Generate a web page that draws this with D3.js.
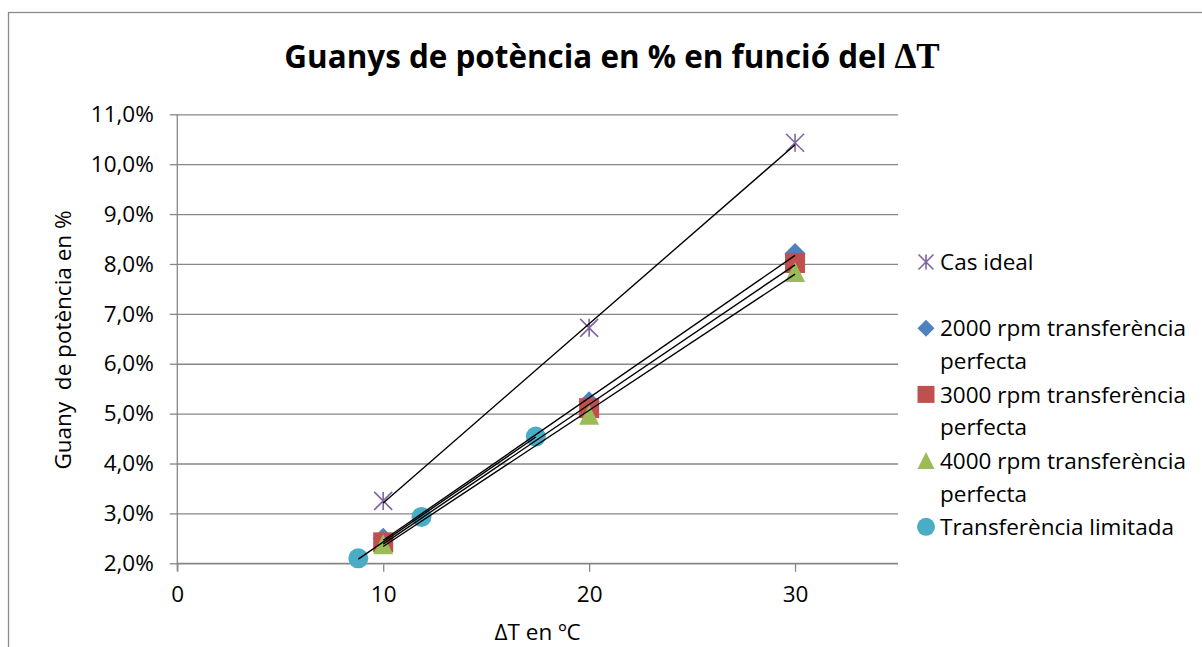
<!DOCTYPE html>
<html>
<head>
<meta charset="utf-8">
<script src="https://cdn.jsdelivr.net/npm/d3@7/dist/d3.min.js"></script>
<style>
  html, body { margin: 0; padding: 0; background: #fff; }
  svg { display: block; }
  text { font-family: "Open Sans", sans-serif; fill: #000; }
</style>
</head>
<body>
<script>
// ---- data ----
const deltaT = [10, 20, 30];
const casIdeal = [3.25, 6.72, 10.43];
const rpm2000 = [2.50, 5.24, 8.21];
const rpm3000 = [2.42, 5.11, 8.02];
const rpm4000 = [2.38, 4.98, 7.84];
const limitadaT = [8.79, 11.86, 17.41];
const limitadaVal = [2.10, 2.93, 4.54];

const seriesNames = [
  "Cas ideal",
  "2000 rpm transferència perfecta",
  "3000 rpm transferència perfecta",
  "4000 rpm transferència perfecta",
  "Transferència limitada"
];
const seriesColors = ["#8064A2", "#4F81BD", "#C0504D", "#9BBB59", "#4BACC6"];
const seriesMarkers = ["asterisk", "diamond", "square", "triangle", "circle"];

const xTickValues = [0, 10, 20, 30];
const yTickValues = [2, 3, 4, 5, 6, 7, 8, 9, 10, 11];

const titleText = "Guanys de potència en % en funció del ";
const titleSymbol = "ΔT";
const xTitle = "ΔT en ºC";
const yTitle = "Guany  de potència en %";

const series = [
  { xs: deltaT, ys: casIdeal },
  { xs: deltaT, ys: rpm2000 },
  { xs: deltaT, ys: rpm3000 },
  { xs: deltaT, ys: rpm4000 },
  { xs: limitadaT, ys: limitadaVal }
].map((s, i) => ({ ...s, name: seriesNames[i], color: seriesColors[i], marker: seriesMarkers[i] }));

// ---- layout ----
const W = 1202, H = 647;
const plot = { left: 177.3, right: 898, top: 114.3, bottom: 563.3 };

const svg = d3.select("body").append("svg").attr("width", W).attr("height", H);
svg.append("rect").attr("width", W).attr("height", H).attr("fill", "#fff");

// chart frame (continues past the window edges)
svg.append("rect")
  .attr("x", 8.5).attr("y", 12.5).attr("width", 1300).attr("height", 800)
  .attr("fill", "none").attr("stroke", "#8a8a8a").attr("stroke-width", 1.3);

const x = d3.scaleLinear().domain([0, 35]).range([plot.left, plot.right]);
const y = d3.scaleLinear().domain([2, 11]).range([plot.bottom, plot.top]);

const locale = d3.formatLocale({ decimal: ",", thousands: ".", grouping: [3], currency: ["", "€"] });
const fmtY = v => locale.format(".1f")(v) + "%";

const gridColor = "#878787";

// horizontal gridlines
svg.append("g")
  .attr("transform", `translate(${plot.left},0)`)
  .call(d3.axisLeft(y).tickValues(yTickValues).tickSize(-(plot.right - plot.left)).tickFormat(""))
  .call(g => g.select(".domain").remove())
  .call(g => g.selectAll("line").attr("stroke", gridColor).attr("stroke-width", 1.3));

// y axis
svg.append("g")
  .attr("transform", `translate(${plot.left},0)`)
  .call(d3.axisLeft(y).tickValues(yTickValues).tickSize(7.5).tickPadding(16).tickFormat(fmtY))
  .call(g => g.select(".domain").attr("stroke", gridColor).attr("stroke-width", 1.3)
      .attr("d", `M0,${plot.top}V${plot.bottom + 8}`))
  .call(g => g.selectAll("line").attr("stroke", gridColor).attr("stroke-width", 1.3))
  .call(g => g.selectAll("text").attr("font-family", "Open Sans").attr("font-size", 22.5).attr("fill", "#000"));

// x axis
svg.append("g")
  .attr("transform", `translate(0,${plot.bottom})`)
  .call(d3.axisBottom(x).tickValues(xTickValues).tickSize(8.5).tickPadding(14).tickFormat(d3.format("d")))
  .call(g => g.select(".domain").attr("stroke", gridColor).attr("stroke-width", 1.3)
      .attr("d", `M${plot.left},0H${plot.right}`))
  .call(g => g.selectAll("line").attr("stroke", gridColor).attr("stroke-width", 1.3))
  .call(g => g.selectAll("text").attr("font-family", "Open Sans").attr("font-size", 22.5).attr("fill", "#000"));

// marker shapes
function markerPath(type, s) {
  const h = s / 2;
  switch (type) {
    case "diamond": return `M0,${-h}L${h},0L0,${h}L${-h},0Z`;
    case "square": return `M${-h},${-h}H${h}V${h}H${-h}Z`;
    case "triangle": return `M0,${-h}L${h},${h}H${-h}Z`;
    case "circle": return d3.symbol(d3.symbolCircle, Math.PI * h * h)();
    case "asterisk": return `M${-h},${-h}L${h},${h}M${h},${-h}L${-h},${h}M0,${-h}V${h}`;
  }
}
function drawMarker(g, type, color, s) {
  const p = g.append("path").attr("d", markerPath(type, s));
  if (type === "asterisk") p.attr("fill", "none").attr("stroke", color).attr("stroke-width", 1.6);
  else p.attr("fill", color).attr("stroke", "none");
  return p;
}

// data markers
const markersG = svg.append("g");
series.forEach(s => {
  s.xs.forEach((xv, i) => {
    const g = markersG.append("g").attr("transform", `translate(${x(xv)},${y(s.ys[i])})`);
    const size = s.marker === "asterisk" ? 18 : s.marker === "diamond" ? 21 : 20;
    drawMarker(g, s.marker, s.color, size);
  });
});

// linear trendlines (least squares over each series' x range)
function linFit(xs, ys) {
  const mx = d3.mean(xs), my = d3.mean(ys);
  const sxy = d3.sum(xs, (v, i) => (v - mx) * (ys[i] - my));
  const sxx = d3.sum(xs, v => (v - mx) * (v - mx));
  const b = sxy / sxx;
  return { b, a: my - b * mx };
}
const trendG = svg.append("g");
series.forEach(s => {
  const f = linFit(s.xs, s.ys);
  const [x0, x1] = d3.extent(s.xs);
  trendG.append("line")
    .attr("x1", x(x0)).attr("y1", y(f.a + f.b * x0))
    .attr("x2", x(x1)).attr("y2", y(f.a + f.b * x1))
    .attr("stroke", "#000").attr("stroke-width", 1.4);
});

// title
const title = svg.append("text")
  .attr("x", 612).attr("y", 68).attr("text-anchor", "middle")
  .attr("font-family", "Open Sans").attr("font-weight", "bold").attr("font-size", 31.4);
title.append("tspan").text(titleText);
title.append("tspan").attr("font-family", "Liberation Serif").attr("font-size", 35).text(titleSymbol);

// axis titles
svg.append("text")
  .attr("transform", `translate(${(plot.left + plot.right) / 2},640)`)
  .attr("text-anchor", "middle").attr("font-size", 22.5)
  .text(xTitle);

svg.append("text")
  .attr("transform", "translate(71,340) rotate(-90)")
  .attr("text-anchor", "middle")
  .attr("font-family", "Liberation Sans").attr("font-size", 22.5)
  .style("white-space", "pre")
  .text(yTitle);

// legend
const legend = svg.append("g").attr("transform", "translate(926,262)");
const legendLines = [
  ["Cas ideal"],
  ["2000 rpm transferència", "perfecta"],
  ["3000 rpm transferència", "perfecta"],
  ["4000 rpm transferència", "perfecta"],
  ["Transferència limitada"]
];
series.forEach((s, i) => {
  const g = legend.append("g").attr("transform", `translate(0,${i * 66.2})`);
  drawMarker(g, s.marker, s.color, s.marker === "asterisk" ? 15 : s.marker === "circle" ? 18 : 17);
  const t = g.append("text").attr("x", 14).attr("y", 0).attr("font-size", 22.5);
  legendLines[i].forEach((ln, k) => {
    t.append("tspan").attr("x", 14).attr("dy", k === 0 ? "0.36em" : 33).text(ln);
  });
});
</script>
</body>
</html>
